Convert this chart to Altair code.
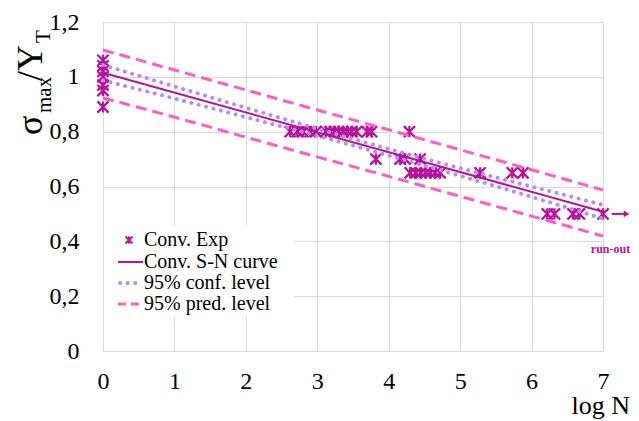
import altair as alt
import pandas as pd

# ---- data ----
exp_x = [0, 0, 0, 0, 0, 0, 0,
         2.62, 2.72, 2.80, 2.90, 2.98, 3.12, 3.18, 3.24, 3.30, 3.36, 3.42, 3.48, 3.55, 3.70, 3.76, 4.29,
         3.82, 4.16, 4.23, 4.44,
         4.30, 4.38, 4.45, 4.52, 4.58, 4.65, 4.72, 5.28, 5.73, 5.88,
         6.22, 6.32, 6.58, 6.67, 7.0]
exp_y = [1.06, 1.04, 1.02, 1.00, 0.97, 0.95, 0.89,
         0.80, 0.80, 0.80, 0.80, 0.80, 0.80, 0.80, 0.80, 0.80, 0.80, 0.80, 0.80, 0.80, 0.80, 0.80, 0.80,
         0.70, 0.70, 0.70, 0.70,
         0.65, 0.65, 0.65, 0.65, 0.65, 0.65, 0.65, 0.65, 0.65, 0.65,
         0.50, 0.50, 0.50, 0.50, 0.50]

fit_x = [0, 7]
fit_y = [1.015, 0.508]

band_x = [0, 1, 2, 3, 4, 5, 6, 7]
conf_upper = [1.043, 0.965, 0.887, 0.811, 0.737, 0.667, 0.600, 0.533]
conf_lower = [0.987, 0.921, 0.853, 0.785, 0.713, 0.639, 0.562, 0.483]
pred_upper = [1.098, 1.025, 0.952, 0.879, 0.807, 0.734, 0.661, 0.587]
pred_lower = [0.923, 0.853, 0.780, 0.708, 0.637, 0.564, 0.492, 0.419]

legend_labels = ["Conv. Exp", "Conv. S-N curve", "95% conf. level", "95% pred. level"]
x_ticks = [0, 1, 2, 3, 4, 5, 6, 7]
y_ticks = [0, 0.2, 0.4, 0.6, 0.8, 1.0, 1.2]

# ---- styles ----
MAG = "#B8129A"
CONF = "#B48CF2"
PRED = "#FF5CC8"
SERIF = "Liberation Serif"
STAR = "M-1,-1L1,1M-1,1L1,-1M0,-1L0,1"

W, H = 500, 329

pts = pd.DataFrame({"x": exp_x, "y": exp_y})
fit = pd.DataFrame({"x": fit_x, "y": fit_y})
conf = pd.DataFrame({"x": band_x * 2, "y": conf_upper + conf_lower,
                     "s": ["u"] * len(band_x) + ["l"] * len(band_x)})
pred = pd.DataFrame({"x": band_x * 2, "y": pred_upper + pred_lower,
                     "s": ["u"] * len(band_x) + ["l"] * len(band_x)})

xs = alt.Scale(domain=[0, 7], nice=False, zero=False)
ys = alt.Scale(domain=[0, 1.2], nice=False)

X = alt.X("x:Q", scale=xs, axis=alt.Axis(
    values=x_ticks, title=None, domain=False, ticks=False, tickSize=0,
    grid=True, gridColor="#D9D9D9", labelFont=SERIF, labelFontSize=24,
    labelColor="#000", labelPadding=18, labelFlush=False, format="d"))
Y = alt.Y("y:Q", scale=ys, axis=alt.Axis(
    values=y_ticks, title=None, domain=False, ticks=False, tickSize=0,
    grid=True, gridColor="#D9D9D9", labelFont=SERIF, labelFontSize=24,
    labelColor="#000", labelPadding=24,
    labelExpr="replace(format(datum.value, '~g'), '.', ',')"))

base_pts = alt.Chart(pts).mark_point(
    shape=STAR, filled=False, strokeWidth=2.3, size=125, color=MAG, opacity=1
).encode(x=X, y=Y)

fit_line = alt.Chart(fit).mark_line(color=MAG, strokeWidth=2).encode(x=X, y=Y)

conf_line = alt.Chart(conf).mark_line(
    color=CONF, strokeWidth=4, strokeDash=[0.1, 7.5], strokeCap="round",
    interpolate="monotone"
).encode(x=X, y=Y, detail="s:N")

pred_line = alt.Chart(pred).mark_line(
    color=PRED, strokeWidth=3, strokeDash=[11, 6], interpolate="monotone"
).encode(x=X, y=Y, detail="s:N")

# legend box
leg_df = pd.DataFrame({"label": legend_labels, "i": [0, 1, 2, 3]})
leg_box = alt.Chart(pd.DataFrame({"a": [0]})).mark_rect(color="white").encode(
    x=alt.value(1), x2=alt.value(192), y=alt.value(203), y2=alt.value(294))
row_y = [218, 240, 261, 282]
leg_text = alt.Chart(leg_df).mark_text(
    align="left", baseline="middle", font=SERIF, fontSize=20, color="#000"
).transform_calculate(
    py="[218, 240, 261, 282][datum.i]"
).encode(x=alt.value(41), y=alt.Y("py:Q", scale=None), text="label:N")

leg_mark = alt.Chart(pd.DataFrame({"a": [0]})).mark_point(
    shape=STAR, filled=False, strokeWidth=2, size=50, color=MAG, opacity=1
).encode(x=alt.value(26), y=alt.value(row_y[0]))
leg_fit = alt.Chart(pd.DataFrame({"a": [0]})).mark_rule(color=MAG, strokeWidth=2).encode(
    x=alt.value(15), x2=alt.value(40), y=alt.value(row_y[1]))
leg_conf = alt.Chart(pd.DataFrame({"a": [0]})).mark_rule(
    color=CONF, strokeWidth=4, strokeDash=[0.1, 7.5], strokeCap="round").encode(
    x=alt.value(17), x2=alt.value(38), y=alt.value(row_y[2]))
leg_pred = alt.Chart(pd.DataFrame({"a": [0]})).mark_rule(
    color=PRED, strokeWidth=3, strokeDash=[8, 5]).encode(
    x=alt.value(15), x2=alt.value(40), y=alt.value(row_y[3]))

# run-out annotation
arrow = alt.Chart(pd.DataFrame({"x": [7.12], "x2": [7.30], "y": [0.5]})).mark_rule(
    color=MAG, strokeWidth=2).encode(x=alt.X("x:Q", scale=xs), x2="x2:Q", y=alt.Y("y:Q", scale=ys))
arrow_head = alt.Chart(pd.DataFrame({"x": [7.33], "y": [0.5]})).mark_point(
    shape="triangle-right", filled=True, size=45, color=MAG, opacity=1).encode(
    x=alt.X("x:Q", scale=xs), y=alt.Y("y:Q", scale=ys))
runout = alt.Chart(pd.DataFrame({"x": [6.83], "y": [0.372], "t": ["run-out"]})).mark_text(
    align="left", baseline="middle", font=SERIF, fontSize=12, fontWeight="bold", color=MAG
).encode(x=alt.X("x:Q", scale=xs), y=alt.Y("y:Q", scale=ys), text="t:N")

# axis titles built from pieces (sub-scripts)
def rot_text(txt, px, py, size):
    return alt.Chart(pd.DataFrame({"t": [txt]})).mark_text(
        angle=270, align="left", baseline="alphabetic", font=SERIF,
        fontSize=size, color="#000").encode(
        x=alt.value(px), y=alt.value(py), text="t:N")

title_parts = [
    rot_text("σ", -61, 113, 36),
    rot_text("max", -52, 91, 21),
    rot_text("/Y", -61, 59, 36),
    rot_text("T", -53, 21, 21),
]
logn = alt.Chart(pd.DataFrame({"t": ["log N"]})).mark_text(
    align="right", baseline="middle", font=SERIF, fontSize=26, color="#000"
).encode(x=alt.value(527), y=alt.value(384), text="t:N")

chart = alt.layer(
    base_pts, fit_line, conf_line, pred_line,
    leg_box, leg_text, leg_mark, leg_fit, leg_conf, leg_pred,
    arrow, arrow_head, runout, logn, *title_parts
).properties(
    width=W, height=H,
    autosize=alt.AutoSizeParams(type="none"),
    padding={"left": 95, "top": 14, "right": 28, "bottom": 70},
    background="white",
).configure_view(stroke=None)

chart.save("out.html", embed_options={"renderer": "svg", "actions": False})
